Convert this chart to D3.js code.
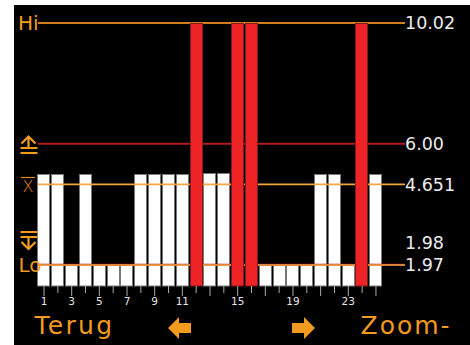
<!DOCTYPE html>
<html>
<head>
<meta charset="utf-8">
<script src="https://cdn.jsdelivr.net/npm/d3@7"></script>
<style>
  html, body { margin: 0; padding: 0; background: #fff; }
  svg { display: block; }
  text { font-family: "DejaVu Sans", sans-serif; }
</style>
</head>
<body>
<svg id="chart"></svg>
<script>
// sample numbers shown under the bars
const sampleNums = [1, 2, 3, 4, 5, 6, 7, 8, 9, 10, 11, 12, 13, 14, 15, 16, 17, 18, 19, 20, 21, 22, 23, 24, 25];
// measured value per sample (red ones are over the upper spec and clipped at Hi)
const sampleValues = [5.0, 5.0, 1.97, 5.0, 1.97, 1.97, 1.97, 5.0, 5.0, 5.0, 5.0, 10.02, 5.03, 5.03, 10.02, 10.02, 1.97, 1.97, 1.97, 1.97, 5.0, 5.0, 1.97, 10.02, 5.0];
// which sample numbers get a label
const tickLabelNums = [1, 3, 5, 7, 9, 11, 15, 19, 23];
// limit lines: hi, upper spec, mean, lower spec, lo
const limitKeys = ["hi", "usl", "mean", "lsl", "lo"];
const limitValues = [10.02, 6.00, 4.651, 1.98, 1.97];
const limitLabels = ["10.02", "6.00", "4.651", "1.98", "1.97"];
const axisFloor = 1.27;

var width = 470, height = 345;
var orange = "#f39a1f";
var lineStyle = {
  hi:   {color: "#cf7f1d", w: 2},
  usl:  {color: "#b01c1c", w: 2},
  mean: {color: "#f2a544", w: 1.6},
  lsl:  {color: "#b01c1c", w: 1.6},
  lo:   {color: "#f2a544", w: 1.6}
};

var svg = d3.select("#chart").attr("width", width).attr("height", height);

// black panel
svg.append("rect").attr("x", 14).attr("y", 5).attr("width", width - 14).attr("height", height - 5).attr("fill", "#000");

var x = d3.scaleBand().domain(sampleNums).range([37.4, 382.6]).paddingInner(0.04);
var y = d3.scaleLinear().domain([axisFloor, limitValues[0]]).range([286, 23]);
var usl = limitValues[1];

var bars = sampleNums.map((n, i) => ({n: n, v: sampleValues[i]}));

function drawBars(g, data) {
  g.selectAll("rect").data(data).enter().append("rect")
    .attr("x", d => Math.round(x(d.n)) + 0.5)
    .attr("width", Math.round(x.bandwidth()) - 1)
    .attr("y", d => Math.round(y(d.v)) + 0.5)
    .attr("height", d => y(axisFloor) - Math.round(y(d.v)) - 0.5)
    .attr("fill", d => d.v > usl ? "#ee2326" : "#fff")
    .attr("stroke", d => d.v > usl ? "#7d1a1a" : "#777")
    .attr("stroke-width", 1);
}

drawBars(svg.append("g"), bars.filter(d => d.v <= usl));

// limit lines
var lines = svg.append("g");
limitKeys.forEach(function(k, i) {
  lines.append("line")
    .attr("x1", 38).attr("x2", 405)
    .attr("y1", y(limitValues[i])).attr("y2", y(limitValues[i]))
    .attr("stroke", lineStyle[k].color)
    .attr("stroke-width", lineStyle[k].w);
});

drawBars(svg.append("g"), bars.filter(d => d.v > usl));

// right side labels, pushed up when they would overlap the one below
var labelY = limitValues.map(v => y(v));
for (var i = labelY.length - 2; i >= 0; i--) {
  if (labelY[i + 1] - labelY[i] < 22) labelY[i] = labelY[i + 1] - 22;
}
svg.append("g").selectAll("text").data(limitLabels).enter().append("text")
  .attr("x", 405)
  .attr("y", (d, i) => labelY[i] + 6.3)
  .attr("fill", "#ececec")
  .attr("font-size", 17.5)
  .text(d => d);

// x axis with alternating tick lengths
var axis = svg.append("g")
  .attr("transform", "translate(0," + y(axisFloor) + ")")
  .call(d3.axisBottom(x).tickSize(10).tickPadding(3)
    .tickFormat(d => tickLabelNums.indexOf(d) >= 0 ? d : ""));
axis.select(".domain").remove();
axis.selectAll(".tick line")
  .attr("stroke", "#aaa")
  .attr("y2", d => d % 2 ? 10 : 7);
axis.selectAll(".tick text")
  .attr("fill", "#e6e6e6")
  .attr("font-size", 10.5)
  .attr("font-family", "DejaVu Sans, sans-serif")
  .attr("dy", "0.55em");

// left side markers
var left = svg.append("g").attr("fill", orange);
left.append("text").attr("x", 18).attr("y", 30).attr("font-size", 20).text("Hi");
left.append("text").attr("x", 18.5).attr("y", 271.5).attr("font-size", 20).text("Lo");
left.append("text").attr("x", 28).attr("y", 191.5).attr("font-size", 16)
  .attr("font-weight", 200).attr("text-anchor", "middle").attr("fill", "#e08a1c").text("X");
left.append("line").attr("x1", 21).attr("x2", 35).attr("y1", 177.5).attr("y2", 177.5)
  .attr("stroke", "#e08a1c").attr("stroke-width", 1.2);

var icons = svg.append("g").attr("stroke", orange).attr("fill", "none").attr("stroke-width", 2.2);
// upper spec
icons.append("path").attr("d", "M21.5,143.5L28.5,136.5L35.5,143.5M28.5,137V148");
icons.append("path").attr("d", "M20.5,148H37.5M20.5,153H37.5");
// lower spec
icons.append("path").attr("d", "M20.5,232H37.5M20.5,237H37.5");
icons.append("path").attr("d", "M21.5,242L28.5,249L35.5,242M28.5,237V248.5");

// bottom softkeys
var keys = svg.append("g").attr("fill", orange);
keys.append("text").attr("x", 34.5).attr("y", 334).attr("font-size", 25)
  .attr("letter-spacing", 2.3).text("Terug");
keys.append("text").attr("x", 360.5).attr("y", 334).attr("font-size", 25)
  .attr("letter-spacing", 2).text("Zoom-");
keys.append("path").attr("d", "M168,328L179,317V323H191V333H179V339Z");
keys.append("path").attr("d", "M315,328L304,317V323H292V333H304V339Z");
</script>
</body>
</html>
